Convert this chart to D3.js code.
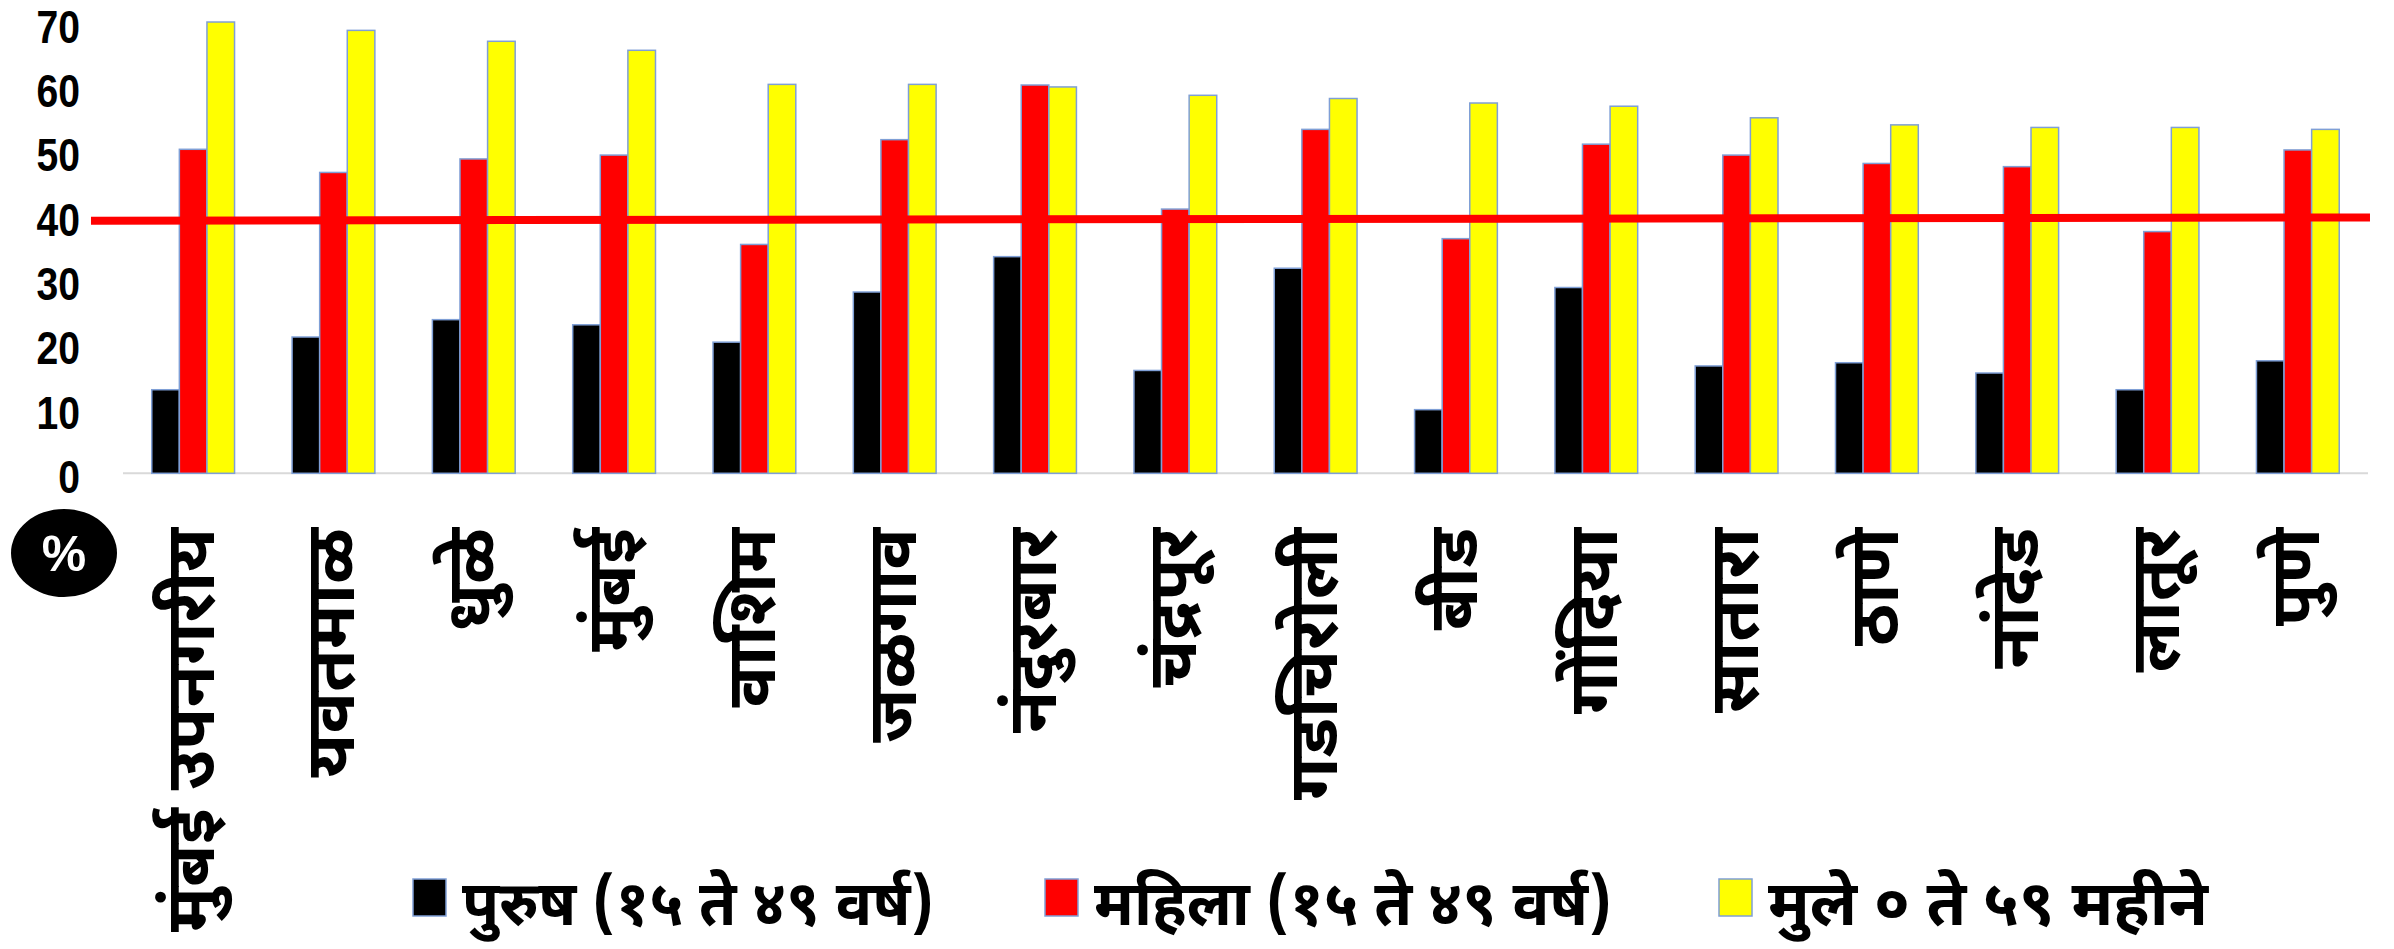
<!DOCTYPE html>
<html>
<head>
<meta charset="utf-8">
<script src="https://cdn.jsdelivr.net/npm/d3@7"></script>
<style>
  body { margin: 0; background: #fff; }
  text { font-family: "Noto Sans Devanagari", "Noto Sans", "Lohit Devanagari", sans-serif; font-weight: bold; }
</style>
</head>
<body>
<script>
		var categories = ["मुंबई उपनगरीय", "यवतमाळ", "धुळे", "मुंबई", "वाशिम", "जळगाव", "नंदुरबार", "चंद्रपूर",
			"गडचिरोली", "बीड", "गोंदिया", "सातारा", "ठाणे", "नांदेड", "लातूर", "पुणे"];
		var men = [13.0, 21.2, 23.9, 23.1, 20.4, 28.2, 33.7, 16.0, 31.9, 9.9, 28.9, 16.7, 17.2, 15.6, 13.0, 17.5];
		var women = [50.4, 46.8, 48.9, 49.5, 35.6, 51.9, 60.4, 41.1, 53.5, 36.5, 51.2, 49.5, 48.2, 47.7, 37.6, 50.3];
		var children = [70.2, 68.9, 67.2, 65.8, 60.5, 60.5, 60.1, 58.8, 58.3, 57.6, 57.1, 55.3, 54.2, 53.8, 53.8, 53.5];
		var seriesNames = ["पुरुष (१५ ते ४९ वर्ष)", "महिला (१५ ते ४९ वर्ष)", "मुले ० ते ५९ महीने"];
		var seriesColors = ["#000000", "#ff0000", "#ffff00"];
		var yTicks = [0, 10, 20, 30, 40, 50, 60, 70];
		var refLine = [39.3, 39.8]; // red line, left end / right end (drawn slightly tilted)

		var width = 2394,
			height = 949;

		var svg = d3.select("body").append("svg")
			.attr("width", width)
			.attr("height", height);

		var x = d3.scaleBand()
			.domain(categories)
			.range([123, 2368]);

		var x1 = d3.scaleBand()
			.domain([0, 1, 2])
			.range([0, x.bandwidth() * 0.59]);

		var y = d3.scaleLinear()
			.domain([0, 70])
			.range([473.3, 23.3]);

		// y tick labels
		svg.append("g").selectAll("text")
			.data(yTicks)
			.enter()
			.append("text")
			.attr("transform", function (d) { return "translate(80," + (y(d) + 3) + ") scale(0.85,1)"; })
			.attr("dy", "0.36em")
			.style("text-anchor", "end")
			.style("font-family", "'Liberation Sans', Arial, sans-serif")
			.style("font-size", "46px")
			.text(function (d) { return d; });

		// baseline
		svg.append("line")
			.attr("x1", x.range()[0])
			.attr("x2", x.range()[1])
			.attr("y1", y(0))
			.attr("y2", y(0))
			.style("stroke", "#d9d9d9")
			.style("stroke-width", 2);

		var groups = svg.selectAll("g.grp")
			.data(categories)
			.enter()
			.append("g")
			.attr("class", "grp")
			.attr("transform", function (d) {
				return "translate(" + (x(d) + x.bandwidth() * 0.205) + ",0)";
			});

		groups.selectAll("rect")
			.data(function (d, i) { return [men[i], women[i], children[i]]; })
			.enter()
			.append("rect")
			.attr("x", function (d, j) { return x1(j); })
			.attr("width", x1.bandwidth())
			.attr("y", function (d) { return y(d); })
			.attr("height", function (d) { return y(0) - y(d); })
			.style("fill", function (d, j) { return seriesColors[j]; })
			.style("stroke", "#7f9fd6")
			.style("stroke-width", 1.5);

		// reference line at 40
		svg.append("line")
			.attr("x1", 91)
			.attr("x2", 2370)
			.attr("y1", y(refLine[0]))
			.attr("y2", y(refLine[1]))
			.style("stroke", "#ff0000")
			.style("stroke-width", 8);

		// category labels, rotated
		var labels = svg.append("g").selectAll("text")
			.data(categories)
			.enter()
			.append("text")
			.attr("transform", function (d) {
				return "translate(" + (x(d) + x.bandwidth() / 2 + 21) + ",528) rotate(-90)";
			})
			.style("text-anchor", "end")
			.style("font-size", "60px")
			.text(function (d) { return d; });

		// fit first label length to the picture
		var firstLen = labels.node().getComputedTextLength();
		labels.style("font-size", (60 * 404 / firstLen) + "px");

		// % badge
		svg.append("ellipse")
			.attr("cx", 64)
			.attr("cy", 553)
			.attr("rx", 53)
			.attr("ry", 44)
			.style("fill", "#000");
		svg.append("text")
			.attr("x", 64)
			.attr("y", 553)
			.attr("dy", "0.36em")
			.style("text-anchor", "middle")
			.style("fill", "#fff")
			.style("font-family", "'Liberation Sans', Arial, sans-serif")
			.style("font-size", "50px")
			.text("%");

		// legend
		var legendX = [413, 1045, 1719];
		var legendTextW = [472, 518, 440];
		var legend = svg.selectAll("g.legend")
			.data(seriesNames)
			.enter()
			.append("g")
			.attr("class", "legend")
			.attr("transform", function (d, i) { return "translate(" + legendX[i] + ",879)"; });

		legend.append("rect")
			.attr("width", 33)
			.attr("height", 37)
			.style("fill", function (d, i) { return seriesColors[i]; })
			.style("stroke", "#7f9fd6")
			.style("stroke-width", 1.5);

		legend.append("text")
			.attr("x", 49)
			.attr("y", 46)
			.attr("textLength", function (d, i) { return legendTextW[i]; })
			.attr("lengthAdjust", "spacingAndGlyphs")
			.style("font-size", "62px")
			.text(function (d) { return d; });
</script>
</body>
</html>
